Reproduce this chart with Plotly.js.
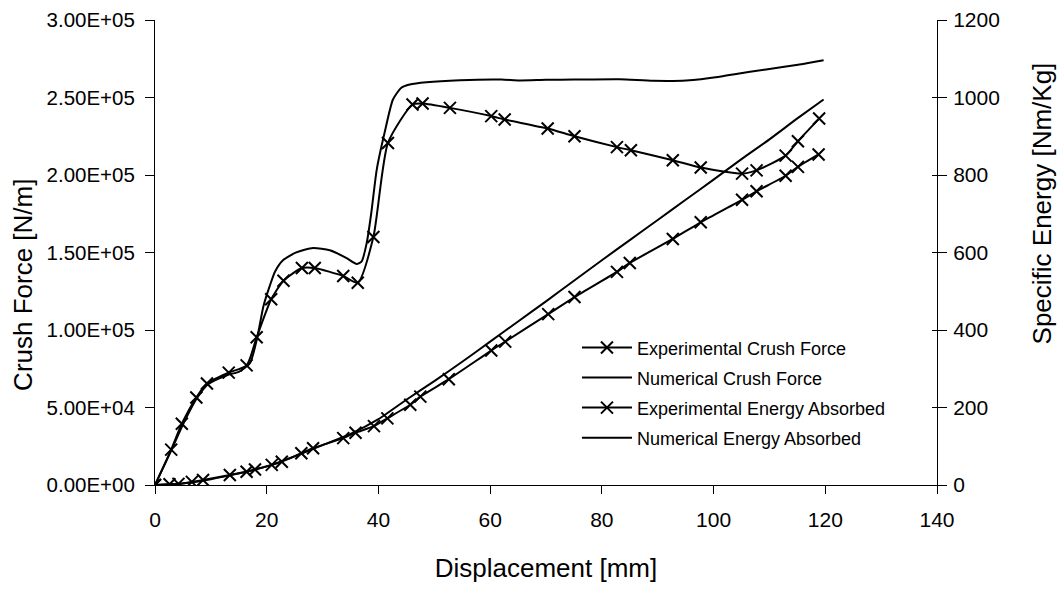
<!DOCTYPE html>
<html>
<head>
<meta charset="utf-8">
<script src="https://cdn.plot.ly/plotly-3.0.1.min.js"></script>
<style>html,body{margin:0;padding:0;background:#fff;}#chart{width:1063px;height:590px;}</style>
</head>
<body>
<div id="chart"></div>
<script>
// Experimental crush force [N/m] vs displacement [mm]
var expForceX = [0, 2.9, 4.8, 7.4, 9.3, 13.2, 16.4, 18.2, 20.8, 23.0, 26.3, 28.6, 33.7, 36.3, 39.1, 41.7, 46.1, 47.9, 52.8, 60.2, 62.6, 70.3, 75.1, 82.7, 85.2, 92.7, 97.7, 105.1, 107.7, 112.9, 115.1, 118.9];
var expForceY = [0, 22800, 39500, 56500, 65500, 72500, 77200, 95300, 119800, 131800, 140000, 140000, 134800, 130500, 160000, 220700, 245500, 246100, 243300, 238000, 235800, 230000, 225000, 218000, 216000, 209500, 204800, 200900, 203000, 212500, 221800, 236400];

// Numerical crush force
var numForceX = [0, 3, 5, 7.5, 9.5, 13, 15, 17.0, 18.3, 19.4, 20.5, 21.5, 23.0, 25.3, 28.3, 31.3, 34.3, 36.1, 37.0, 37.9, 38.7, 39.7, 41.1, 42.6, 44.1, 45.6, 48.6, 54.6, 62.0, 65.3, 70.0, 75.0, 83.2, 89.2, 95.1, 101.1, 103.5, 109.4, 115.4, 119.7];
var numForceY = [0, 23000, 39000, 56000, 65000, 71000, 73000, 78600, 95000, 115200, 128000, 137800, 145300, 150100, 152900, 151400, 146400, 142600, 144300, 156100, 175000, 203500, 227200, 248700, 256300, 258400, 259900, 261200, 261600, 261000, 261400, 261600, 261800, 260800, 261000, 263400, 264900, 268100, 271300, 274100];

// Experimental specific energy absorbed [Nm/Kg]
var expEnergyX = [0, 2.6, 4.2, 6.6, 8.6, 13.4, 16.4, 17.9, 20.9, 22.7, 26.2, 28.3, 33.7, 35.9, 39.2, 41.6, 45.7, 47.5, 52.6, 60.2, 62.7, 70.4, 75.1, 82.7, 85.0, 92.7, 97.7, 105.1, 107.7, 112.9, 115.1, 118.8];
var expEnergyY = [0, 2, 3, 8, 13, 26, 34, 40, 52, 60, 82, 95, 121, 135, 152, 172, 207, 228, 273, 347, 370, 441, 485, 550, 573, 635, 678, 736, 758, 798, 821, 853];

// Numerical specific energy absorbed
var numEnergyX = [0, 5, 10, 15, 20, 25, 30, 35, 40, 45, 50, 55, 60, 65, 70, 75, 80, 85, 90, 95, 100, 105, 110, 115, 119.7];
var numEnergyY = [0, 4, 15, 30, 48, 74, 103, 132, 170, 220, 268, 318, 370, 422, 474, 527, 580, 632, 684, 736, 788, 841, 892, 946, 995];

var seriesNames = ['Experimental Crush Force', 'Numerical Crush Force', 'Experimental Energy Absorbed', 'Numerical Energy Absorbed'];

var forceTickVals = [0, 50000, 100000, 150000, 200000, 250000, 300000];
var forceTickText = ['0.00E+00', '5.00E+04', '1.00E+05', '1.50E+05', '2.00E+05', '2.50E+05', '3.00E+05'];
var energyTickVals = [0, 200, 400, 600, 800, 1000, 1200];
var xTickVals = [0, 20, 40, 60, 80, 100, 120, 140];

var FONT = 'Liberation Sans, Arial, Helvetica, sans-serif';
var mk = {symbol: 'x-thin', size: 12, color: '#000', line: {color: '#000', width: 2}};
var ln = {color: '#000', width: 2, shape: 'spline', smoothing: 0.6};

var traces = [
  {x: expForceX, y: expForceY, name: seriesNames[0], mode: 'lines+markers', line: ln, marker: mk, yaxis: 'y', legend: 'legend'},
  {x: numForceX, y: numForceY, name: seriesNames[1], mode: 'lines', line: ln, yaxis: 'y', legend: 'legend2'},
  {x: expEnergyX, y: expEnergyY, name: seriesNames[2], mode: 'lines+markers', line: ln, marker: mk, yaxis: 'y2', legend: 'legend3'},
  {x: numEnergyX, y: numEnergyY, name: seriesNames[3], mode: 'lines', line: ln, yaxis: 'y2', legend: 'legend4'}
];
// invisible trace to show the inner half of the right-axis ticks
traces.push({x: [0], y: [0], yaxis: 'y3', mode: 'markers', marker: {opacity: 0}, showlegend: false, hoverinfo: 'skip'});

function leg(yv) {
  return {x: 0.5396, y: yv, xanchor: 'left', yanchor: 'middle', itemwidth: 50, font: {size: 18, family: FONT}, bgcolor: 'rgba(0,0,0,0)'};
}

var layout = {
  width: 1063, height: 590,
  margin: {l: 155, r: 126, t: 20, b: 105},
  paper_bgcolor: '#fff', plot_bgcolor: '#fff',
  font: {family: FONT, color: '#000', size: 20},
  showlegend: true,
  legend: leg(0.2949),
  legend2: leg(0.2304),
  legend3: leg(0.1658),
  legend4: leg(0.1012),
  xaxis: {
    range: [0, 140], tickvals: xTickVals, ticks: 'outside', ticklen: 8, tickwidth: 1, tickcolor: '#000',
    showline: true, linecolor: '#000', linewidth: 1, showgrid: false, zeroline: false,
    tickfont: {size: 21}, ticklabelstandoff: 8,
    title: {text: 'Displacement [mm]', font: {size: 26}, standoff: 28}
  },
  yaxis: {
    range: [0, 300000], tickvals: forceTickVals, ticktext: forceTickText, ticks: 'outside', ticklen: 9, tickwidth: 1, tickcolor: '#000',
    showline: true, linecolor: '#000', linewidth: 1, showgrid: false, zeroline: false,
    tickfont: {size: 20.5}, ticklabelstandoff: 6
  },
  yaxis2: {
    range: [0, 1200], tickvals: energyTickVals, overlaying: 'y', side: 'right', ticks: 'outside', ticklen: 9, tickwidth: 1, tickcolor: '#000',
    showline: true, linecolor: '#000', linewidth: 1, showgrid: false, zeroline: false,
    tickfont: {size: 21}, ticklabelstandoff: 2
  },
  yaxis3: {
    range: [0, 1200], tickvals: energyTickVals, overlaying: 'y', side: 'right', ticks: 'inside', ticklen: 5, tickwidth: 1, tickcolor: '#000',
    showline: false, showgrid: false, zeroline: false, showticklabels: false
  },
  annotations: [
    {text: 'Crush Force [N/m]', xref: 'paper', yref: 'paper', x: -0.169, y: 0.43, xanchor: 'center', yanchor: 'middle', textangle: -90, showarrow: false, font: {size: 26}},
    {text: 'Specific Energy [Nm/Kg]', xref: 'paper', yref: 'paper', x: 1.134, y: 0.605, xanchor: 'center', yanchor: 'middle', textangle: -90, showarrow: false, font: {size: 26}}
  ]
};

Plotly.newPlot('chart', traces, layout, {displayModeBar: false, staticPlot: true});
</script>
</body>
</html>
